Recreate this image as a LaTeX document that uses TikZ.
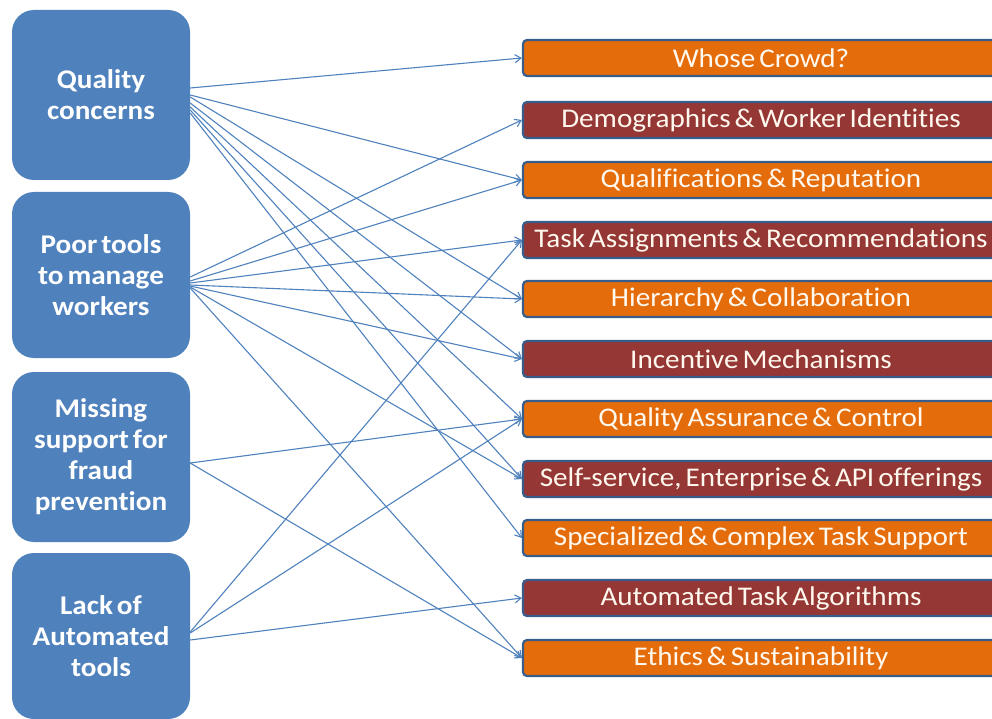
\documentclass[tikz,border=0pt]{standalone}
\usepackage{fontspec}
\setmainfont{Carlito}[FakeStretch=1.08, WordSpace=0.6, RawFeature=-liga]
\usetikzlibrary{arrows.meta}
\definecolor{lblue}{HTML}{4F81BD}
\definecolor{boxorange}{HTML}{E46C0A}
\definecolor{boxred}{HTML}{953735}
\definecolor{boxline}{HTML}{385D8A}
\definecolor{cream}{HTML}{FFF8EE}
\tikzset{
  lbox/.style={fill=lblue, rounded corners=22pt, minimum width=178pt, inner sep=0pt,
    text=white, align=center, font=\bfseries\fontsize{27}{31}\selectfont},
  rbox/.style={draw=boxline, line width=2.2pt, rounded corners=4pt, minimum width=476pt,
    minimum height=36pt, inner sep=0pt, text=cream, font=\fontsize{27}{30}\selectfont},
  ob/.style={rbox, fill=boxorange},
  rb/.style={rbox, fill=boxred},
  conn/.style={draw=lblue, line width=1.1pt, -{Straight Barb[length=6pt,width=8pt]}}
}
\begin{document}
\begin{tikzpicture}[x=1pt,y=-1pt]
\useasboundingbox (0,0) rectangle (992,719);
\clip (0,0) rectangle (992,719);
% left boxes
\node[lbox, minimum height=170pt] (q) at (101,95) {Quality\\concerns};
\node[lbox, minimum height=166pt] (p) at (101,275) {Poor tools\\to manage\\workers};
\node[lbox, minimum height=170pt] (m) at (101,457) {Missing\\support for\\fraud\\prevention};
\node[lbox, minimum height=166pt] (l) at (101,636) {Lack of\\Automated\\tools};
% right boxes
\node[ob] (wc) at (761,58) {Whose Crowd?};
\node[rb] (dw) at (761,120) {Demographics \& Worker Identities};
\node[ob] (qr) at (761,180) {Qualifications \& Reputation};
\node[rb] (ta) at (761,240) {Task Assignments \& Recommendations};
\node[ob] (hc) at (761,299) {Hierarchy \& Collaboration};
\node[rb] (im) at (761,359) {Incentive Mechanisms};
\node[ob] (qa) at (761,419) {Quality Assurance \& Control};
\node[rb] (se) at (761,479) {Self-service, Enterprise \& API offerings};
\node[ob] (sc) at (761,538) {Specialized \& Complex Task Support};
\node[rb] (at) at (761,598) {Automated Task Algorithms};
\node[ob] (es) at (761,658) {Ethics \& Sustainability};
% connectors from Quality concerns
\draw[conn] ([yshift=7pt]q.east) -- (wc.west);
\draw[conn] ([yshift=0pt]q.east) -- (qr.west);
\draw[conn] ([yshift=-2pt]q.east) -- (hc.west);
\draw[conn] ([yshift=-8pt]q.east) -- (im.west);
\draw[conn] ([yshift=-12pt]q.east) -- (qa.west);
\draw[conn] ([yshift=-15pt]q.east) -- (se.west);
\draw[conn] ([yshift=-18pt]q.east) -- (sc.west);
% connectors from Poor tools
\draw[conn] ([yshift=-2pt]p.east) -- (dw.west);
\draw[conn] ([yshift=-6pt]p.east) -- (qr.west);
\draw[conn] ([yshift=-8pt]p.east) -- (ta.west);
\draw[conn] ([yshift=-10pt]p.east) -- (hc.west);
\draw[conn] ([yshift=-11pt]p.east) -- (im.west);
\draw[conn] ([yshift=-12pt]p.east) -- (se.west);
\draw[conn] ([yshift=-13pt]p.east) -- (es.west);
% connectors from Missing support
\draw[conn] ([yshift=-6pt]m.east) -- (qa.west);
\draw[conn] ([yshift=-6pt]m.east) -- (es.west);
% connectors from Lack of Automated tools
\draw[conn] ([yshift=4pt]l.east) -- (ta.west);
\draw[conn] ([yshift=3pt]l.east) -- (qa.west);
\draw[conn] ([yshift=-4pt]l.east) -- (at.west);
\end{tikzpicture}
\end{document}
